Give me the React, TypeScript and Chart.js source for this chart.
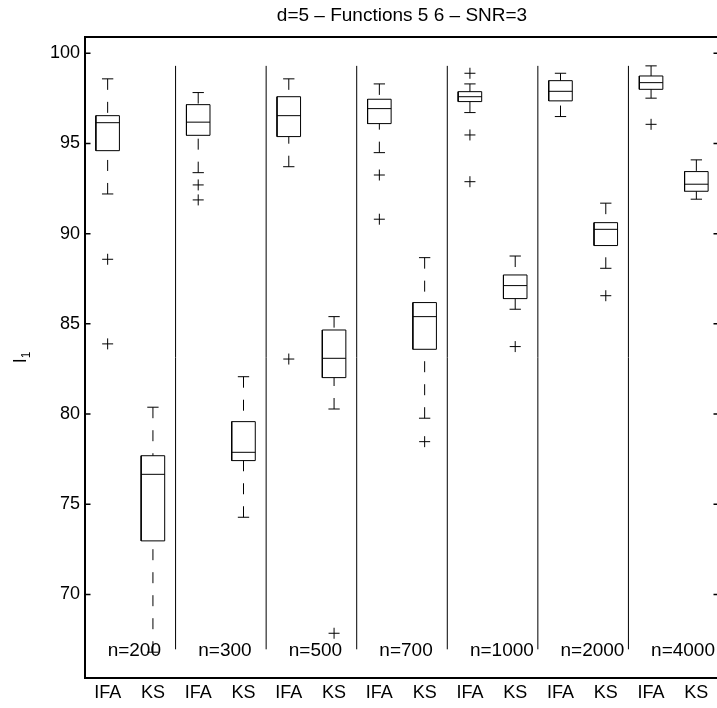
import React, { useEffect, useRef } from 'react';
import { Chart, registerables } from 'chart.js';

Chart.register(...registerables);

const FONT = '"Liberation Sans", Arial, Helvetica, sans-serif';

const TITLE = 'd=5 – Functions 5 6 – SNR=3';
const Y_LABEL_MAIN = 'l';
const Y_LABEL_SUB = '1';

const GROUPS = ['n=200', 'n=300', 'n=500', 'n=700', 'n=1000', 'n=2000', 'n=4000'];
const METHODS = ['IFA', 'KS'];
const X_LABELS = GROUPS.flatMap(() => METHODS);

// box statistics, in the order IFA, KS for each group
const LOWER = [92.2, 66.8, 93.38, 74.28, 93.71, 80.28, 94.49, 79.77, 96.71, 85.81, 96.49, 88.08, 97.51, 91.91];
const Q1 = [94.6, 72.97, 95.45, 77.42, 95.38, 82.02, 96.1, 83.59, 97.32, 86.4, 97.36, 89.34, 98.0, 92.35];
const MEDIAN = [96.15, 76.66, 96.18, 77.88, 96.54, 83.09, 96.93, 85.4, 97.59, 87.12, 97.89, 90.24, 98.37, 92.74];
const Q3 = [96.54, 77.69, 97.15, 79.58, 97.59, 84.66, 97.45, 86.18, 97.87, 87.71, 98.48, 90.61, 98.74, 93.44];
const UPPER = [98.58, 80.38, 97.82, 82.07, 98.58, 85.4, 98.3, 88.67, 98.3, 88.76, 98.89, 91.69, 99.3, 94.09];
const OUTLIERS = [
  [88.58, 83.89],
  [],
  [92.7, 91.87],
  [],
  [83.05],
  [67.85],
  [93.25, 90.8],
  [78.47],
  [98.89, 95.47, 92.88],
  [83.74],
  [],
  [86.56],
  [96.06],
  [],
];

const Y_TICKS = [70, 75, 80, 85, 90, 95, 100];
const Y_MIN = 65.37;
const Y_MAX = 100.9;
const SEPARATOR_TOP = 99.3;
const SEPARATOR_BOTTOM = 66.96;
const GROUP_LABEL_Y = 66.9;

const BOX_HALF = 0.26;
const CAP_HALF = 0.125;

function buildData() {
  const GAP = { x: null, y: null };
  const solid: any[] = [];
  const dashed: any[] = [];
  const outliers: any[] = [];
  const separators: any[] = [];
  X_LABELS.forEach((_, i) => {
    const x = i + 1;
    solid.push(
      { x: x - BOX_HALF, y: Q1[i] },
      { x: x + BOX_HALF, y: Q1[i] },
      { x: x + BOX_HALF, y: Q3[i] },
      { x: x - BOX_HALF, y: Q3[i] },
      { x: x - BOX_HALF, y: Q1[i] },
      GAP,
      { x: x - BOX_HALF, y: MEDIAN[i] },
      { x: x + BOX_HALF, y: MEDIAN[i] },
      GAP,
      { x: x - CAP_HALF, y: UPPER[i] },
      { x: x + CAP_HALF, y: UPPER[i] },
      GAP,
      { x: x - CAP_HALF, y: LOWER[i] },
      { x: x + CAP_HALF, y: LOWER[i] },
      GAP
    );
    dashed.push(
      { x, y: UPPER[i] },
      { x, y: Q3[i] },
      GAP,
      { x, y: LOWER[i] },
      { x, y: Q1[i] },
      GAP
    );
    OUTLIERS[i].forEach((v) => outliers.push({ x, y: v }));
  });
  for (let g = 1; g < GROUPS.length; g++) {
    const sx = g * METHODS.length + 0.5;
    separators.push({ x: sx, y: SEPARATOR_BOTTOM }, { x: sx, y: SEPARATOR_TOP }, GAP);
  }
  return { solid, dashed, outliers, separators };
}

const overlayPlugin = {
  id: 'overlay',
  afterDraw(chart: any) {
    const { ctx, chartArea: a, scales } = chart;
    const xs = scales.x;
    const ys = scales.y;
    ctx.save();
    // frame
    ctx.strokeStyle = '#000';
    ctx.lineWidth = 2;
    ctx.strokeRect(a.left, a.top, a.right - a.left, a.bottom - a.top);
    // inward ticks
    ctx.lineWidth = 1.5;
    Y_TICKS.forEach((v) => {
      const py = ys.getPixelForValue(v);
      ctx.beginPath();
      ctx.moveTo(a.left, py);
      ctx.lineTo(a.left + 5.5, py);
      ctx.moveTo(a.right, py);
      ctx.lineTo(a.right - 5.5, py);
      ctx.stroke();
    });
    // group labels
    ctx.fillStyle = '#000';
    ctx.font = `19px ${FONT}`;
    ctx.textAlign = 'left';
    ctx.textBaseline = 'middle';
    GROUPS.forEach((g, i) => {
      ctx.fillText(g, xs.getPixelForValue(i * METHODS.length + 1), ys.getPixelForValue(GROUP_LABEL_Y));
    });
    // title
    ctx.textAlign = 'center';
    ctx.fillText(TITLE, (a.left + a.right) / 2, 16);
    // y label
    ctx.translate(20, (a.top + a.bottom) / 2);
    ctx.rotate(-Math.PI / 2);
    ctx.textBaseline = 'alphabetic';
    ctx.textAlign = 'left';
    ctx.font = `18px ${FONT}`;
    const w1 = ctx.measureText(Y_LABEL_MAIN).width;
    ctx.font = `12px ${FONT}`;
    const w2 = ctx.measureText(Y_LABEL_SUB).width;
    const start = -(w1 + w2) / 2;
    ctx.font = `18px ${FONT}`;
    ctx.fillText(Y_LABEL_MAIN, start, 6);
    ctx.font = `12px ${FONT}`;
    ctx.fillText(Y_LABEL_SUB, start + w1 + 0.5, 10);
    ctx.restore();
  },
};

export default function App() {
  const ref = useRef<HTMLCanvasElement | null>(null);
  useEffect(() => {
    if (!ref.current) return;
    const { solid, dashed, outliers, separators } = buildData();
    const lineBase = {
      showLine: true,
      pointRadius: 0,
      pointHoverRadius: 0,
      borderColor: '#000',
      backgroundColor: 'transparent',
      borderWidth: 1,
      tension: 0,
      spanGaps: false,
    };
    const chart = new Chart(ref.current, {
      type: 'scatter',
      data: {
        datasets: [
          { ...lineBase, data: separators },
          { ...lineBase, data: dashed, borderDash: [11, 12] },
          { ...lineBase, data: solid },
          {
            data: outliers,
            showLine: false,
            pointStyle: 'cross',
            pointRadius: 5.5,
            pointHoverRadius: 5.5,
            borderColor: '#000',
            backgroundColor: '#000',
            pointBorderWidth: 1,
            borderWidth: 1,
          },
        ] as any,
      },
      plugins: [overlayPlugin],
      options: {
        responsive: false,
        devicePixelRatio: 1,
        animation: false,
        events: [],
        layout: { autoPadding: false, padding: { top: 37, left: 0, right: 0, bottom: 0 } },
        plugins: { legend: { display: false }, tooltip: { enabled: false }, title: { display: false } },
        scales: {
          x: {
            type: 'linear',
            min: 0.5,
            max: X_LABELS.length + 0.5,
            afterBuildTicks: (s: any) => {
              s.ticks = X_LABELS.map((_, i) => ({ value: i + 1 }));
            },
            afterFit: (s: any) => {
              s.height = 30;
              s.paddingLeft = 0;
              s.paddingRight = 0;
            },
            grid: { display: false, drawTicks: false },
            border: { display: false },
            ticks: {
              autoSkip: false,
              maxRotation: 0,
              minRotation: 0,
              padding: 4,
              color: '#000',
              font: { size: 18, family: FONT },
              callback: (v: any) => X_LABELS[Math.round(Number(v)) - 1] ?? '',
            },
          },
          y: {
            type: 'linear',
            min: Y_MIN,
            max: Y_MAX,
            afterBuildTicks: (s: any) => {
              s.ticks = Y_TICKS.map((v) => ({ value: v }));
            },
            afterFit: (s: any) => {
              s.width = 85;
              s.paddingTop = 0;
              s.paddingBottom = 0;
            },
            grid: { display: false, drawTicks: false },
            border: { display: false },
            ticks: {
              padding: 5,
              color: '#000',
              font: { size: 18, family: FONT },
              callback: (v: any) => String(v),
            },
          },
        },
      } as any,
    });
    return () => chart.destroy();
  }, []);
  return (
    <div
      style={{
        position: 'fixed',
        left: 0,
        top: 0,
        width: 717,
        height: 708,
        overflow: 'hidden',
        background: '#fff',
      }}
    >
      <canvas ref={ref} width={719} height={708} style={{ display: 'block', width: 719, height: 708 }} />
    </div>
  );
}
